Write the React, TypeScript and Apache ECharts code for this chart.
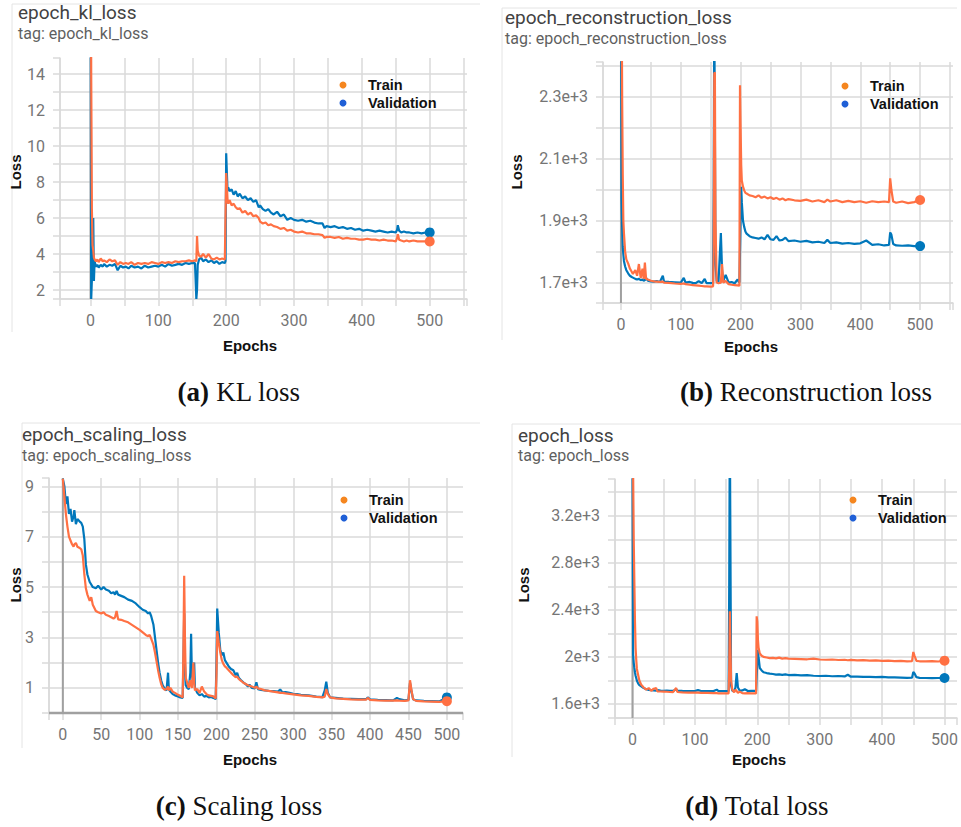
import React, { useEffect, useRef } from 'react';
import * as echarts from 'echarts';

// ---------- (a) KL loss ----------
const klEpochs = [0, 1, 2, 3, 4, 5, 6, 8, 10, 12, 15, 18, 20, 24, 28, 32, 36, 40, 44, 48, 52, 56, 60, 65, 70, 75, 80, 85, 90, 95, 100, 105, 110, 115, 120, 125, 130, 135, 140, 145, 150, 154, 156, 157, 158, 160, 163, 166, 170, 174, 178, 182, 186, 190, 194, 198, 199, 200, 201, 202, 203, 205, 208, 211, 214, 217, 220, 224, 228, 232, 236, 240, 244, 248, 250, 254, 258, 262, 266, 270, 275, 280, 285, 290, 295, 300, 306, 312, 318, 324, 330, 336, 342, 345, 348, 354, 360, 366, 372, 378, 384, 390, 396, 402, 408, 414, 420, 426, 432, 438, 444, 450, 452, 453, 455, 458, 462, 466, 470, 476, 482, 488, 494, 500];
const klTrain = [30, 14, 6.5, 4.5, 4.2, 3.8, 3.7, 3.6, 3.7, 3.55, 3.75, 3.6, 3.65, 3.55, 3.7, 3.6, 3.65, 3.4, 3.55, 3.45, 3.5, 3.45, 3.55, 3.4, 3.5, 3.45, 3.5, 3.45, 3.55, 3.5, 3.45, 3.55, 3.5, 3.55, 3.5, 3.6, 3.55, 3.6, 3.6, 3.65, 3.6, 3.65, 3.6, 5.0, 4.2, 3.9, 3.85, 4.0, 3.8, 4.0, 3.75, 3.7, 3.8, 3.7, 3.75, 3.7, 3.7, 8.5, 7.8, 7.0, 6.8, 7.0, 6.7, 6.8, 6.6, 6.5, 6.55, 6.3, 6.4, 6.2, 6.3, 6.1, 6.15, 6.0, 5.8, 5.7, 5.75, 5.6, 5.65, 5.55, 5.5, 5.4, 5.45, 5.3, 5.35, 5.25, 5.2, 5.25, 5.15, 5.15, 5.1, 5.1, 5.05, 4.9, 4.95, 4.95, 4.9, 4.95, 4.85, 4.9, 4.85, 4.85, 4.8, 4.8, 4.85, 4.8, 4.8, 4.75, 4.8, 4.75, 4.75, 4.7, 4.9, 5.1, 4.8, 4.75, 4.7, 4.75, 4.7, 4.75, 4.7, 4.7, 4.7, 4.7];
const klVal = [25, 1.5, 2.6, 4.5, 6.0, 2.5, 3.6, 3.3, 3.4, 3.25, 3.4, 3.3, 3.45, 3.3, 3.4, 3.35, 3.45, 3.1, 3.35, 3.25, 3.3, 3.2, 3.35, 3.25, 3.3, 3.2, 3.35, 3.25, 3.3, 3.35, 3.3, 3.4, 3.3, 3.45, 3.35, 3.4, 3.45, 3.4, 3.5, 3.45, 3.5, 3.5, 1.5, 2.0, 3.4, 3.7, 3.8, 3.6, 3.7, 3.55, 3.65, 3.5, 3.6, 3.45, 3.55, 3.5, 3.6, 9.6, 8.5, 7.5, 7.7, 7.5, 7.6, 7.3, 7.5, 7.2, 7.35, 7.1, 7.2, 7.0, 7.1, 6.9, 7.0, 6.6, 6.7, 6.5, 6.4, 6.5, 6.3, 6.2, 6.35, 6.1, 6.2, 5.9, 6.0, 5.9, 5.85, 5.9, 5.8, 5.85, 5.75, 5.7, 5.7, 5.45, 5.55, 5.5, 5.55, 5.45, 5.5, 5.4, 5.45, 5.35, 5.4, 5.3, 5.35, 5.3, 5.25, 5.3, 5.25, 5.2, 5.25, 5.2, 5.35, 5.6, 5.3, 5.2, 5.25, 5.2, 5.2, 5.15, 5.2, 5.15, 5.2, 5.2];

// ---------- (b) Reconstruction loss ----------
const recEpochs = [0, 1, 2, 3, 4, 5, 7, 9, 12, 15, 18, 20, 24, 27, 30, 33, 36, 38, 40, 42, 45, 50, 55, 60, 65, 70, 72, 80, 90, 100, 105, 108, 115, 120, 125, 130, 135, 140, 143, 150, 154, 155, 156, 157, 158, 160, 163, 167, 169, 171, 175, 180, 185, 190, 195, 198, 199, 200, 201, 202, 204, 206, 208, 210, 215, 220, 225, 230, 235, 240, 245, 250, 255, 260, 265, 270, 275, 280, 290, 300, 310, 320, 330, 340, 345, 350, 360, 370, 380, 390, 400, 410, 420, 430, 440, 448, 450, 452, 455, 460, 470, 480, 490, 500];
const recTrain = [3000, 2700, 2300, 2050, 1900, 1860, 1800, 1775, 1762, 1745, 1735, 1728, 1740, 1722, 1760, 1715, 1745, 1712, 1765, 1712, 1710, 1706, 1704, 1703, 1702, 1703, 1700, 1699, 1697, 1696, 1697, 1695, 1693, 1692, 1691, 1690, 1689, 1688, 1688, 1687, 1688, 1800, 2375, 2380, 1900, 1700, 1698, 1700, 1760, 1700, 1705, 1695, 1693, 1692, 1691, 1690, 2338, 2200, 2080, 2030, 2010, 1998, 1990, 1988, 1982, 1980, 1976, 1982, 1974, 1978, 1972, 1976, 1970, 1974, 1968, 1972, 1966, 1970, 1966, 1964, 1968, 1962, 1966, 1960, 1968, 1962, 1966, 1960, 1964, 1960, 1963, 1958, 1963, 1960, 1962, 1960, 2037, 2000, 1962, 1958, 1962, 1957, 1960, 1967];
const recVal = [3000, 1970, 1880, 1816, 1790, 1770, 1752, 1740, 1730, 1722, 1718, 1716, 1712, 1710, 1712, 1708, 1710, 1706, 1708, 1715, 1706, 1704, 1703, 1705, 1702, 1722, 1703, 1702, 1701, 1700, 1715, 1700, 1702, 1699, 1698, 1705, 1698, 1712, 1698, 1698, 1700, 2000, 2600, 2600, 1760, 1705, 1700, 1860, 1740, 1705, 1725, 1700, 1702, 1698, 1710, 1700, 1700, 1900, 2010, 1960, 1900, 1880, 1865, 1858, 1850, 1846, 1844, 1842, 1846, 1840, 1854, 1840, 1838, 1850, 1836, 1838, 1845, 1834, 1836, 1832, 1835, 1830, 1832, 1828, 1838, 1828, 1830, 1826, 1828, 1825, 1827, 1836, 1822, 1824, 1820, 1822, 1862, 1855, 1825, 1820, 1819, 1820, 1818, 1818];

// ---------- (c) Scaling loss ----------
const scEpochs = [0, 2, 4, 6, 8, 10, 12, 14, 15, 17, 19, 22, 24, 26, 28, 30, 32, 35, 37, 39, 43, 46, 50, 53, 56, 60, 63, 66, 68, 70, 72, 76, 80, 85, 90, 95, 100, 104, 108, 111, 113, 115, 118, 120, 122, 124, 126, 128, 130, 133, 135, 137, 138, 140, 143, 146, 150, 153, 156, 157, 158, 159, 160, 162, 164, 166, 167, 168, 170, 171, 172, 175, 178, 181, 184, 187, 190, 193, 196, 199, 200, 201, 203, 205, 207, 209, 211, 213, 216, 219, 222, 225, 227, 229, 232, 235, 238, 241, 243, 246, 250, 252, 254, 258, 263, 268, 274, 280, 283, 286, 290, 295, 300, 305, 310, 320, 330, 338, 341, 343, 345, 348, 355, 365, 375, 385, 395, 397, 400, 410, 420, 430, 435, 438, 445, 450, 452, 454, 456, 460, 470, 480, 490, 500];
const scTrain = [9.3, 8.6, 7.9, 7.4, 7.0, 6.85, 6.7, 6.6, 6.7, 6.75, 6.6, 6.55, 6.5, 6.25, 5.5, 4.95, 4.7, 4.45, 4.6, 4.3, 4.05, 4.0, 3.95, 4.0, 3.9, 3.85, 3.8, 3.75, 3.8, 4.05, 3.72, 3.7, 3.65, 3.6, 3.5, 3.4, 3.3, 3.2, 3.1, 3.05, 3.1, 2.95, 2.7, 2.4, 2.05, 1.7, 1.4, 1.15, 1.0, 0.92, 0.95, 1.05, 0.9, 1.0, 0.85, 0.8, 0.72, 0.68, 0.62, 2.5, 5.45, 3.0, 1.4, 1.2, 1.0, 1.3, 1.1, 1.0, 2.0, 1.2, 0.9, 0.95, 0.8, 1.05, 0.85, 0.75, 0.7, 0.68, 0.66, 0.58, 1.5, 3.25, 2.8, 2.4, 2.1, 1.95, 1.85, 1.8, 1.7, 1.6, 1.5, 1.42, 1.45, 1.35, 1.28, 1.2, 1.15, 1.1, 1.08, 1.05, 1.0, 1.05, 0.98, 0.95, 0.9, 0.88, 0.85, 0.82, 0.8, 0.8, 0.78, 0.76, 0.74, 0.72, 0.7, 0.68, 0.64, 0.62, 0.65, 0.95, 0.75, 0.62, 0.58, 0.56, 0.54, 0.53, 0.53, 0.6, 0.52, 0.5, 0.49, 0.49, 0.5, 0.49, 0.48, 0.5, 1.3, 0.9, 0.55, 0.48, 0.46, 0.45, 0.44, 0.47];
const scVal = [9.3, 9.0, 8.3, 8.6, 7.9, 8.1, 7.6, 7.8, 8.05, 7.5, 7.7, 7.6, 7.55, 7.4, 6.9, 5.9, 5.5, 5.2, 5.1, 5.0, 4.95, 5.05, 4.9, 5.0, 4.9, 4.85, 4.75, 4.8, 4.7, 4.85, 4.7, 4.65, 4.6, 4.5, 4.45, 4.35, 4.2, 4.1, 4.05, 3.95, 4.0, 3.85, 3.5, 3.0, 2.5, 2.0, 1.6, 1.3, 1.1, 0.95, 0.9, 1.6, 0.95, 0.85, 0.75, 0.7, 0.66, 0.62, 0.6, 2.0, 3.96, 2.0, 1.1, 1.0, 0.95, 1.6, 3.15, 1.5, 1.2, 2.0, 1.0, 0.8, 0.7, 0.75, 0.65, 0.68, 0.62, 0.64, 0.6, 0.55, 2.0, 4.15, 3.2, 2.5, 2.3, 2.4, 2.1, 2.0, 1.85, 1.75, 1.7, 1.5, 1.6, 1.4, 1.3, 1.22, 1.15, 1.05, 1.12, 1.0, 0.98, 1.22, 0.95, 0.92, 0.9, 0.88, 0.87, 0.85, 0.93, 0.82, 0.83, 0.8, 0.76, 0.75, 0.72, 0.7, 0.65, 0.63, 0.9, 1.24, 0.8, 0.62, 0.6, 0.57, 0.56, 0.55, 0.55, 0.62, 0.54, 0.52, 0.51, 0.5, 0.6, 0.55, 0.5, 0.52, 1.2, 0.85, 0.55, 0.5, 0.48, 0.47, 0.46, 0.62];

// ---------- (d) Total loss ----------
const totEpochs = [0, 1, 2, 3, 4, 5, 6, 7, 9, 11, 14, 18, 22, 26, 30, 34, 38, 40, 45, 50, 55, 60, 65, 70, 72, 80, 90, 100, 105, 110, 120, 130, 135, 138, 145, 150, 154, 155, 156, 157, 158, 160, 163, 165, 167, 169, 172, 176, 180, 185, 190, 195, 198, 199, 200, 201, 202, 204, 207, 210, 215, 220, 225, 230, 235, 240, 245, 250, 260, 270, 280, 290, 300, 310, 320, 330, 340, 345, 350, 360, 370, 380, 390, 400, 410, 420, 430, 440, 448, 450, 452, 455, 460, 470, 480, 490, 500];
const totTrain = [4000, 3600, 3000, 2640, 2300, 2076, 1980, 1900, 1849, 1800, 1764, 1740, 1722, 1735, 1712, 1730, 1735, 1708, 1706, 1705, 1704, 1702, 1701, 1736, 1702, 1699, 1697, 1696, 1696, 1695, 1694, 1692, 1692, 1691, 1690, 1690, 1690, 1900, 2387, 2387, 1800, 1720, 1700, 1722, 1710, 1695, 1705, 1692, 1690, 1692, 1690, 1690, 1690, 2345, 2300, 2150, 2080, 2030, 2010, 2000, 1995, 1990, 1992, 1988, 1994, 1986, 1990, 1985, 1984, 1982, 1980, 1986, 1978, 1976, 1978, 1974, 1976, 1972, 1975, 1970, 1972, 1968, 1970, 1966, 1968, 1965, 1967, 1963, 1964, 2042, 2010, 1966, 1963, 1962, 1964, 1961, 1968];
const totVal = [4000, 2019, 1950, 1906, 1870, 1840, 1821, 1800, 1775, 1760, 1750, 1735, 1725, 1720, 1718, 1716, 1714, 1718, 1713, 1712, 1714, 1712, 1711, 1725, 1712, 1711, 1710, 1710, 1718, 1710, 1709, 1710, 1722, 1710, 1709, 1709, 1710, 2600, 4000, 4000, 1760, 1712, 1710, 1740, 1863, 1740, 1712, 1715, 1725, 1710, 1712, 1711, 1712, 1712, 1950, 2060, 2000, 1906, 1885, 1870, 1863, 1858, 1855, 1850, 1852, 1848, 1852, 1846, 1848, 1844, 1845, 1840, 1838, 1840, 1836, 1838, 1834, 1848, 1832, 1832, 1830, 1830, 1828, 1830, 1826, 1826, 1824, 1822, 1823, 1872, 1860, 1828, 1822, 1821, 1820, 1821, 1821];

const TRAIN_COLOR = '#ff7043';
const VAL_COLOR = '#0077bb';
const GRID_COLOR = '#dadada';
const ZERO_COLOR = '#a0a0a0';

const isInt = (v: number) => Math.abs(v - Math.round(v)) < 1e-6;
const fmtE3 = (v: number) => `${Math.round(v / 100) / 10}e+3`;

type Panel = {
  title: string;
  caption: string;
  tag: string;
  epochs: number[];
  train: number[];
  val: number[];
  grid: { left: number; top: number; width: number; height: number };
  xMin: number; xMax: number; xStep: number; xLabelEvery: number;
  yMin: number; yMax: number; yStep: number;
  yLabel: (v: number) => string;
  zeroH: boolean;
};

const panels: Panel[] = [
  {
    title: 'epoch_kl_loss', tag: 'tag: epoch_kl_loss', caption: '(a)| KL loss',
    epochs: klEpochs, train: klTrain, val: klVal,
    grid: { left: 60, top: 58, width: 407, height: 241 },
    xMin: -45, xMax: 555, xStep: 50, xLabelEvery: 100,
    yMin: 1.5, yMax: 14.9, yStep: 1,
    yLabel: (v) => (isInt(v) && Math.round(v) % 2 === 0 ? String(Math.round(v)) : ''),
    zeroH: false,
  },
  {
    title: 'epoch_reconstruction_loss', tag: 'tag: epoch_reconstruction_loss', caption: '(b)| Reconstruction loss',
    epochs: recEpochs, train: recTrain, val: recVal,
    grid: { left: 603, top: 62, width: 350, height: 241 },
    xMin: -30, xMax: 555, xStep: 50, xLabelEvery: 100,
    yMin: 1634, yMax: 2413, yStep: 100,
    yLabel: (v) => (isInt(v / 100) && Math.abs(Math.round(v / 100) % 2) === 1 ? fmtE3(v) : ''),
    zeroH: false,
  },
  {
    title: 'epoch_scaling_loss', tag: 'tag: epoch_scaling_loss', caption: '(c)| Scaling loss',
    epochs: scEpochs, train: scTrain, val: scVal,
    grid: { left: 49, top: 478, width: 414, height: 235 },
    xMin: -18, xMax: 521, xStep: 50, xLabelEvery: 50,
    yMin: 0, yMax: 9.33, yStep: 1,
    yLabel: (v) => (isInt(v) && Math.round(v) % 2 === 1 ? String(Math.round(v)) : ''),
    zeroH: true,
  },
  {
    title: 'epoch_loss', tag: 'tag: epoch_loss', caption: '(d)| Total loss',
    epochs: totEpochs, train: totTrain, val: totVal,
    grid: { left: 615, top: 479, width: 346, height: 239 },
    xMin: -28, xMax: 520, xStep: 50, xLabelEvery: 100,
    yMin: 1481, yMax: 3512, yStep: 200,
    yLabel: (v) => (isInt(v / 200) && Math.round(v / 200) % 2 === 0 ? fmtE3(v) : ''),
    zeroH: false,
  },
];

// text / decoration positions per panel
const layout = [
  { titleX: 18, titleY: 12, tagY: 33, legendDotX: 343, legendY: 85, lossX: 15, lossY: 172, epochsX: 250, epochsY: 345, capX: 239, capY: 392, border: [[12, 4, 480, 4], [12, 4, 12, 332]] },
  { titleX: 505, titleY: 17, tagY: 38, legendDotX: 845, legendY: 86, lossX: 516, lossY: 172, epochsX: 751, epochsY: 346, capX: 806, capY: 392, border: [[502, 8, 957, 8], [502, 8, 502, 340]] },
  { titleX: 22, titleY: 434, tagY: 455, legendDotX: 344, legendY: 500, lossX: 15, lossY: 585, epochsX: 250, epochsY: 759, capX: 239, capY: 806, border: [[22, 423, 480, 423], [22, 423, 22, 748]] },
  { titleX: 518, titleY: 435, tagY: 455, legendDotX: 853, legendY: 500, lossX: 523, lossY: 585, epochsX: 759, epochsY: 759, capX: 757, capY: 806, border: [[512, 424, 961, 424], [512, 424, 512, 757]] },
];

function buildOption(): echarts.EChartsOption {
  const grids: any[] = [];
  const xAxes: any[] = [];
  const yAxes: any[] = [];
  const series: any[] = [];
  const graphic: any[] = [];

  panels.forEach((p, i) => {
    grids.push({ ...p.grid, containLabel: false });
    xAxes.push({
      type: 'value', gridIndex: i, min: p.xMin, max: p.xMax,
      minInterval: p.xStep, maxInterval: p.xStep, splitNumber: Math.round((p.xMax - p.xMin) / p.xStep),
      axisLine: { show: true, onZero: false, lineStyle: { color: GRID_COLOR, width: 1.5 } },
      axisTick: { show: true, length: 7, lineStyle: { color: GRID_COLOR, width: 1.5 } },
      splitLine: { show: true, showMaxLine: false, lineStyle: { color: GRID_COLOR, width: 1.5 } },
      axisLabel: {
        margin: 13, color: '#757575', fontSize: 16, fontFamily: 'Roboto',
        formatter: (v: number) => (isInt(v / p.xLabelEvery) ? String(Math.round(v)) : ''),
      },
    });
    yAxes.push({
      type: 'value', gridIndex: i, min: p.yMin, max: p.yMax,
      minInterval: p.yStep, maxInterval: p.yStep, splitNumber: Math.round((p.yMax - p.yMin) / p.yStep),
      axisLine: { show: true, onZero: false, lineStyle: { color: GRID_COLOR, width: 1.5 } },
      axisTick: { show: true, length: 7, lineStyle: { color: GRID_COLOR, width: 1.5 } },
      splitLine: { show: true, showMaxLine: false, lineStyle: { color: GRID_COLOR, width: 1.5 } },
      axisLabel: { margin: 15, color: '#757575', fontSize: 16, fontFamily: 'Roboto', formatter: p.yLabel },
    });

    // zero lines
    series.push({
      type: 'line', xAxisIndex: i, yAxisIndex: i, silent: true, clip: false, symbol: 'none', z: 1,
      data: [[0, p.yMin], [0, p.yMax]],
      lineStyle: { color: ZERO_COLOR, width: 2 },
    });
    if (p.zeroH) {
      series.push({
        type: 'line', xAxisIndex: i, yAxisIndex: i, silent: true, clip: false, symbol: 'none', z: 1,
        data: [[p.xMin, 0], [p.xMax, 0]],
        lineStyle: { color: ZERO_COLOR, width: 2.5 },
      });
    }

    const valData = p.epochs.map((e, k) => [e, p.val[k]]);
    const trainData = p.epochs.map((e, k) => [e, p.train[k]]);
    series.push({
      name: 'Validation', type: 'line', xAxisIndex: i, yAxisIndex: i, data: valData,
      symbol: 'none', clip: true, z: 3, lineStyle: { color: VAL_COLOR, width: 2.2 }, itemStyle: { color: VAL_COLOR },
    });
    series.push({
      name: 'Train', type: 'line', xAxisIndex: i, yAxisIndex: i, data: trainData,
      symbol: 'none', clip: true, z: 4, lineStyle: { color: TRAIN_COLOR, width: 2.2 }, itemStyle: { color: TRAIN_COLOR },
    });
    series.push({
      type: 'scatter', xAxisIndex: i, yAxisIndex: i, symbolSize: 10, z: 5,
      data: [valData[valData.length - 1]], itemStyle: { color: VAL_COLOR, opacity: 1 },
    });
    series.push({
      type: 'scatter', xAxisIndex: i, yAxisIndex: i, symbolSize: 10, z: 6,
      data: [trainData[trainData.length - 1]], itemStyle: { color: TRAIN_COLOR, opacity: 1 },
    });

    const L = layout[i];
    L.border.forEach((b) => {
      graphic.push({ type: 'line', shape: { x1: b[0], y1: b[1], x2: b[2], y2: b[3] }, style: { stroke: '#e4e4e4', lineWidth: 1 }, silent: true });
    });
    graphic.push({
      type: 'text', x: L.titleX, y: L.titleY,
      style: { text: p.title, fill: '#424242', fontSize: 19, fontFamily: 'Roboto', align: 'left', verticalAlign: 'middle', textAlign: 'left', textVerticalAlign: 'middle' },
    });
    graphic.push({
      type: 'text', x: L.titleX, y: L.tagY,
      style: { text: p.tag, fill: '#5f5f5f', fontSize: 16, fontFamily: 'Roboto', align: 'left', verticalAlign: 'middle', textAlign: 'left', textVerticalAlign: 'middle' },
    });
    // legend
    [['Train', '#f5861f'], ['Validation', '#1f5fd6']].forEach(([name, color], k) => {
      const cy = L.legendY + k * 18;
      graphic.push({ type: 'circle', shape: { cx: L.legendDotX, cy, r: 3.5 }, style: { fill: color }, z: 10 });
      graphic.push({
        type: 'text', x: L.legendDotX + 25, y: cy, z: 10,
        style: { text: name, fill: '#111', fontSize: 14.5, fontWeight: 'bold', fontFamily: 'Liberation Sans', align: 'left', verticalAlign: 'middle', textAlign: 'left', textVerticalAlign: 'middle' },
      });
    });
    // axis names
    graphic.push({
      type: 'text', x: L.lossX, y: L.lossY, rotation: Math.PI / 2,
      style: { text: 'Loss', fill: '#111', fontSize: 15, fontWeight: 'bold', fontFamily: 'Liberation Sans', align: 'center', verticalAlign: 'middle', textAlign: 'center', textVerticalAlign: 'middle' },
    });
    graphic.push({
      type: 'text', x: L.epochsX, y: L.epochsY,
      style: { text: 'Epochs', fill: '#111', fontSize: 15, fontWeight: 'bold', fontFamily: 'Liberation Sans', align: 'center', verticalAlign: 'middle', textAlign: 'center', textVerticalAlign: 'middle' },
    });
    // caption
    const [lab, rest] = p.caption.split('|');
    graphic.push({
      type: 'text', x: L.capX, y: L.capY,
      style: {
        text: `{b|${lab}}{r|${rest}}`,
        rich: {
          b: { fontWeight: 'bold', fontSize: 27, fontFamily: 'Liberation Serif', fill: '#111', color: '#111' },
          r: { fontSize: 27, fontFamily: 'Liberation Serif', fill: '#111', color: '#111' },
        },
        fontSize: 27, fontFamily: 'Liberation Serif', fill: '#111',
        align: 'center', verticalAlign: 'middle', textAlign: 'center', textVerticalAlign: 'middle',
      },
    });
  });

  return {
    animation: false,
    backgroundColor: '#ffffff',
    grid: grids,
    xAxis: xAxes,
    yAxis: yAxes,
    series,
    graphic,
  };
}

export default function App() {
  const ref = useRef<HTMLDivElement>(null);
  useEffect(() => {
    if (!ref.current) return;
    const chart = echarts.init(ref.current, undefined, { renderer: 'svg' });
    chart.setOption(buildOption());
    return () => chart.dispose();
  }, []);
  return <div ref={ref} style={{ position: 'absolute', left: 0, top: 0, width: 961, height: 827 }} />;
}
